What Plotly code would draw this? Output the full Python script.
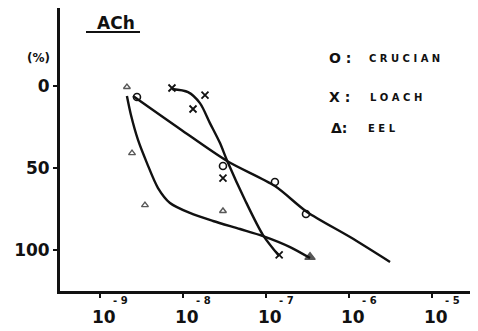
import plotly.graph_objects as go

# ---- data (ACh concentration in M, response %) ----
tick_exponents = [-9, -8, -7, -6, -5]
y_ticks = [0, 50, 100]

crucian_x = [2.79e-9, 3.03e-8, 1.28e-7, 3.03e-7]
crucian_y = [6.7, 48.8, 58.5, 78.0]
crucian_curve_x = [2.50e-9, 9.2e-9, 3.39e-8, 1.28e-7, 3.12e-7, 1.03e-6, 3.12e-6]
crucian_curve_y = [6.1, 26.2, 45.7, 61.0, 76.8, 92.1, 107.3]

loach_x = [7.36e-9, 1.84e-8, 1.32e-8, 3.03e-8, 1.44e-7]
loach_y = [1.2, 5.5, 14.0, 56.1, 103.0]
loach_curve_x = [7.36e-9, 1.15e-8, 1.60e-8, 2.11e-8, 2.79e-8, 3.39e-8, 5.58e-8, 9.2e-8, 1.44e-7]
loach_curve_y = [1.8, 3.7, 10.4, 22.6, 34.8, 45.4, 69.5, 90.9, 103.7]

eel_x = [2.11e-9, 2.43e-9, 3.48e-9, 3.03e-8, 3.39e-7]
eel_y = [0.6, 40.9, 72.6, 76.2, 104.3]
eel_curve_x = [2.11e-9, 2.36e-9, 2.87e-9, 3.68e-9, 5.0e-9, 6.97e-9, 1.21e-8,
               2.30e-8, 4.86e-8, 9.2e-8, 1.95e-7, 3.39e-7]
eel_curve_y = [6.1, 17.7, 32.9, 47.0, 62.2, 71.3, 77.4, 82.3, 87.2, 91.5, 98.2, 104.9]

legend_symbols = ["O :", "X :", "\u0394:"]
legend_names = ["C R U C I A N", "L O A C H", "E E L"]

# ---- layout: the page body adds an 8px margin, so the figure is drawn 8px smaller ----
PAGE_OFF = 8
W, H = 478 - PAGE_OFF, 331 - PAGE_OFF
PLOT_X0, PLOT_X1 = 60, 478   # window pixels
PLOT_Y0, PLOT_Y1 = 8, 291
L = PLOT_X0 - PAGE_OFF
T = PLOT_Y0 - PAGE_OFF
B = H - (PLOT_Y1 - PAGE_OFF)
R = W - (PLOT_X1 - PAGE_OFF)


def px(x):
    return (x - PLOT_X0) / (PLOT_X1 - PLOT_X0)


def py(y):
    return (PLOT_Y1 - y) / (PLOT_Y1 - PLOT_Y0)


FONT = "DejaVu Sans"
BLACK = "#111111"

fig = go.Figure()

line_style = dict(color=BLACK, width=2.4, shape="spline", smoothing=0.8)
for cx, cy in [(crucian_curve_x, crucian_curve_y),
               (loach_curve_x, loach_curve_y),
               (eel_curve_x, eel_curve_y)]:
    fig.add_trace(go.Scatter(x=cx, y=cy, mode="lines", line=line_style,
                             showlegend=False, hoverinfo="skip"))

fig.add_trace(go.Scatter(x=crucian_x, y=crucian_y, mode="markers",
                         marker=dict(symbol="circle-open", size=7, color=BLACK,
                                     line=dict(width=1.6, color=BLACK)),
                         showlegend=False))
fig.add_trace(go.Scatter(x=loach_x, y=loach_y, mode="markers",
                         marker=dict(symbol="x-thin-open", size=7, color=BLACK,
                                     line=dict(width=1.8, color=BLACK)),
                         showlegend=False))
fig.add_trace(go.Scatter(x=eel_x, y=eel_y, mode="markers",
                         marker=dict(symbol=["triangle-up-open"] * (len(eel_x) - 1) + ["triangle-up"],
                                     size=[6] * (len(eel_x) - 1) + [9], color=BLACK,
                                     line=dict(width=1.4, color=BLACK)),
                         showlegend=False))

annotations = []
# x tick labels: 10 with superscript exponent
for e in tick_exponents:
    annotations.append(dict(x=e, xref="x", y=py(317), yref="paper", text="<b>10</b>",
                            showarrow=False, xanchor="center", yanchor="middle", xshift=4,
                            font=dict(family=FONT, size=17, color=BLACK)))
    annotations.append(dict(x=e, xref="x", y=py(300), yref="paper", text="<b>- " + str(-e) + "</b>",
                            showarrow=False, xanchor="left", yanchor="middle", xshift=11,
                            font=dict(family=FONT, size=10, color=BLACK)))

# title & unit
annotations.append(dict(x=px(116), y=py(23), xref="paper", yref="paper", text="<b>ACh</b>",
                        showarrow=False, xanchor="center", yanchor="middle",
                        font=dict(family=FONT, size=17, color=BLACK)))
annotations.append(dict(x=px(38), y=py(58), xref="paper", yref="paper", text="<b>(%)</b>",
                        showarrow=False, xanchor="center", yanchor="middle",
                        font=dict(family=FONT, size=12, color=BLACK)))

# legend text
leg_y = [58, 97, 128]
sym_x = [327, 327, 329]
name_x = [367, 368, 366]
for s, n, yy, sx, nx in zip(legend_symbols, legend_names, leg_y, sym_x, name_x):
    annotations.append(dict(x=px(sx), y=py(yy), xref="paper", yref="paper", text="<b>" + s + "</b>",
                            showarrow=False, xanchor="left", yanchor="middle",
                            font=dict(family=FONT, size=14, color=BLACK)))
    annotations.append(dict(x=px(nx), y=py(yy), xref="paper", yref="paper", text="<b>" + n + "</b>",
                            showarrow=False, xanchor="left", yanchor="middle",
                            font=dict(family=FONT, size=10, color=BLACK)))

shapes = [dict(type="line", xref="paper", yref="paper", x0=px(86), x1=px(140), y0=py(32), y1=py(32),
               line=dict(color=BLACK, width=1.8))]

fig.update_layout(
    width=W, height=H,
    margin=dict(l=L, r=R, t=T, b=B, pad=0),
    paper_bgcolor="white", plot_bgcolor="white",
    annotations=annotations, shapes=shapes,
    xaxis=dict(type="log", range=[-9.482, -4.446], showgrid=False, zeroline=False,
               showline=True, linecolor=BLACK, linewidth=2.5,
               tickvals=[10.0 ** e for e in tick_exponents], ticks="outside",
               ticklen=4, tickwidth=1.5, tickcolor=BLACK, showticklabels=False),
    yaxis=dict(range=[125, -47.6], showgrid=False, zeroline=False,
               showline=True, linecolor=BLACK, linewidth=2.8,
               tickvals=y_ticks, ticktext=["<b>%d</b>" % v for v in y_ticks], ticks="outside",
               ticklen=4, tickwidth=2, tickcolor=BLACK,
               tickfont=dict(family=FONT, size=17, color=BLACK)),
    font=dict(family=FONT, color=BLACK),
)

fig.write_html("out.html")
